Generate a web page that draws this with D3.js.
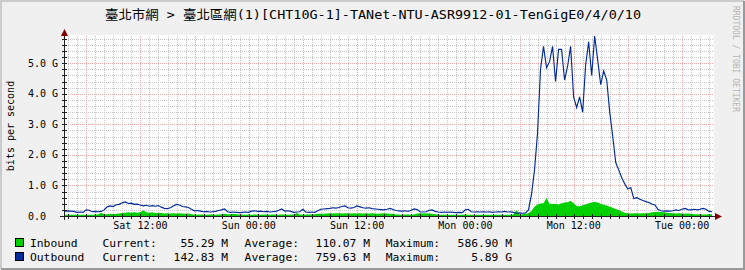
<!DOCTYPE html>
<html>
<head>
<meta charset="utf-8">
<script src="https://cdn.jsdelivr.net/npm/d3@7"></script>
<style>
  html, body { margin: 0; padding: 0; background: #f0f0f0; }
  svg { display: block; }
  text { font-family: "DejaVu Sans Mono", "Noto Sans CJK TC", monospace; fill: #000; }
</style>
</head>
<body>
<svg id="chart" width="745" height="270"></svg>
<script>
const title = "臺北市網 > 臺北區網(1)[CHT10G-1]-TANet-NTU-ASR9912-01-TenGigE0/4/0/10";
const yLabel = "bits per second";
const watermark = "RRDTOOL / TOBI OETIKER";

// y ticks in Gbit/s
const yTicks = [0, 1, 2, 3, 4, 5];
const yTickLabels = ["0.0", "1.0 G", "2.0 G", "3.0 G", "4.0 G", "5.0 G"];
const xTickLabels = ["Sat 12:00", "Sun 00:00", "Sun 12:00", "Mon 00:00", "Mon 12:00", "Tue 00:00"];

// one sample every 20 minutes, Gbit/s
const outbound = [
  0.16,0.17,0.16,0.15,0.12,0.13,0.12,0.20,0.19,0.14,
  0.15,0.14,0.15,0.20,0.30,0.33,0.31,0.37,0.38,0.43,
  0.46,0.41,0.42,0.38,0.39,0.36,0.33,0.35,0.32,0.34,
  0.32,0.34,0.29,0.25,0.24,0.27,0.33,0.38,0.36,0.31,
  0.30,0.28,0.22,0.17,0.18,0.16,0.14,0.15,0.13,0.14,
  0.15,0.18,0.20,0.23,0.14,0.12,0.13,0.12,0.11,0.12,
  0.13,0.12,0.16,0.17,0.15,0.16,0.14,0.15,0.13,0.14,
  0.15,0.19,0.23,0.16,0.17,0.15,0.12,0.13,0.14,0.22,
  0.13,0.12,0.13,0.12,0.17,0.22,0.23,0.24,0.25,0.27,
  0.26,0.28,0.31,0.33,0.27,0.26,0.28,0.33,0.30,0.27,
  0.26,0.27,0.24,0.23,0.22,0.21,0.20,0.22,0.25,0.21,
  0.18,0.17,0.16,0.17,0.15,0.19,0.23,0.21,0.14,0.13,
  0.14,0.19,0.20,0.15,0.13,0.12,0.13,0.12,0.13,0.12,
  0.11,0.12,0.11,0.20,0.22,0.14,0.13,0.14,0.13,0.14,
  0.13,0.14,0.12,0.13,0.14,0.13,0.15,0.13,0.14,0.12,
  0.09,0.10,0.09,0.10,0.20,0.70,1.50,2.70,4.80,5.55,
  4.85,5.05,5.55,4.40,5.45,5.45,4.45,4.90,5.55,3.90,
  3.55,3.90,3.40,4.95,5.70,4.60,5.89,5.10,4.30,4.75,
  4.45,3.40,2.60,1.75,1.50,1.25,1.05,0.88,0.93,0.57,
  0.60,0.55,0.51,0.47,0.44,0.39,0.36,0.22,0.17,0.16,
  0.17,0.16,0.17,0.20,0.18,0.22,0.25,0.21,0.20,0.22,
  0.20,0.22,0.25,0.22,0.15,0.14
];
const inbound = [
  0.04,0.045,0.04,0.045,0.04,0.04,0.045,0.04,0.045,0.04,
  0.05,0.05,0.11,0.06,0.06,0.07,0.06,0.07,0.08,0.10,
  0.11,0.12,0.11,0.12,0.11,0.12,0.19,0.12,0.11,0.12,
  0.10,0.11,0.10,0.08,0.09,0.08,0.09,0.08,0.09,0.08,
  0.07,0.08,0.06,0.05,0.045,0.05,0.05,0.045,0.05,0.05,
  0.045,0.05,0.06,0.07,0.06,0.06,0.07,0.06,0.05,0.05,
  0.045,0.05,0.045,0.05,0.05,0.045,0.05,0.05,0.045,0.05,
  0.05,0.045,0.05,0.05,0.045,0.05,0.05,0.10,0.05,0.045,
  0.05,0.05,0.06,0.06,0.07,0.07,0.07,0.08,0.09,0.08,
  0.09,0.09,0.08,0.09,0.09,0.08,0.09,0.08,0.09,0.08,
  0.09,0.08,0.09,0.08,0.07,0.08,0.09,0.08,0.07,0.07,
  0.05,0.05,0.045,0.05,0.05,0.045,0.05,0.08,0.09,0.08,
  0.09,0.08,0.07,0.06,0.05,0.04,0.045,0.04,0.04,0.045,
  0.04,0.04,0.045,0.05,0.04,0.04,0.045,0.04,0.04,0.045,
  0.04,0.04,0.045,0.04,0.04,0.045,0.04,0.04,0.045,0.05,
  0.20,0.05,0.06,0.07,0.09,0.16,0.30,0.38,0.41,0.42,
  0.587,0.40,0.39,0.40,0.38,0.42,0.44,0.45,0.50,0.42,
  0.33,0.32,0.35,0.38,0.42,0.44,0.47,0.44,0.40,0.37,
  0.34,0.30,0.27,0.23,0.20,0.15,0.11,0.09,0.08,0.09,
  0.09,0.08,0.09,0.09,0.10,0.12,0.13,0.14,0.13,0.12,
  0.11,0.10,0.09,0.08,0.09,0.08,0.07,0.08,0.07,0.06,
  0.06,0.06,0.05,0.05,0.06,0.055
];

const legendNames = ["Inbound", "Outbound"];
const legendColors = ["#00CF00", "#002A97"];
const legendCurrent = ["55.29 M", "142.83 M"];
const legendAverage = ["110.07 M", "759.63 M"];
const legendMaximum = ["586.90 M", "5.89 G"];

const start = new Date(2021, 0, 2, 3, 32);
const end = new Date(2021, 0, 5, 3, 32);
const firstSample = new Date(2021, 0, 2, 3, 39);
const stepMs = 20 * 60 * 1000;
const sampleTime = (i) => new Date(firstSample.getTime() + i * stepMs);

const svg = d3.select("#chart");

const x = d3.scaleTime().domain([start, end]).range([64, 714]);
const y = d3.scaleLinear().domain([0, 5.89]).range([216, 36]);
const px = (v) => Math.round(v) + 0.5;

// background + 3d border
svg.append("rect").attr("width", 745).attr("height", 270).attr("fill", "#f0f0f0");
svg.append("path").attr("d", "M1,269V1H744").attr("fill", "none").attr("stroke", "#cbcbcb").attr("stroke-width", 2);
svg.append("path").attr("d", "M1,269H744V1").attr("fill", "none").attr("stroke", "#999999").attr("stroke-width", 2);

// canvas
svg.append("rect")
    .attr("x", 64).attr("y", 35)
    .attr("width", 650).attr("height", 181)
    .attr("fill", "#ffffff");

// grid
const grid = svg.append("g");
const minorY = d3.range(1, 30).map((k) => k * 0.2).filter((v) => Math.abs(v - Math.round(v)) > 1e-6);
const minorX = d3.timeHour.range(start, end);
const majorX = d3.timeHour.every(6).range(start, end);

grid.selectAll(".minor-y").data(minorY).join("line")
    .attr("x1", 64).attr("x2", 714)
    .attr("y1", (d) => px(y(d))).attr("y2", (d) => px(y(d)))
    .attr("stroke", "#c8c8c8").attr("stroke-dasharray", "1,1");
grid.selectAll(".minor-x").data(minorX).join("line")
    .attr("x1", (d) => px(x(d))).attr("x2", (d) => px(x(d)))
    .attr("y1", 36).attr("y2", 216)
    .attr("stroke", "#c8c8c8").attr("stroke-dasharray", "1,1");
grid.selectAll(".major-y").data(yTicks.slice(1)).join("line")
    .attr("x1", 64).attr("x2", 714)
    .attr("y1", (d) => px(y(d))).attr("y2", (d) => px(y(d)))
    .attr("stroke", "#f0a8a8").attr("stroke-dasharray", "1,1");
grid.selectAll(".major-x").data(majorX).join("line")
    .attr("x1", (d) => px(x(d))).attr("x2", (d) => px(x(d)))
    .attr("y1", 36).attr("y2", 216)
    .attr("stroke", "#f0a8a8").attr("stroke-dasharray", "1,1");

// data
const area = d3.area()
    .x((d, i) => x(sampleTime(i)))
    .y0(y(0))
    .y1((d) => y(d));
svg.append("path").datum(inbound)
    .attr("d", area)
    .attr("fill", legendColors[0]);

const line = d3.line()
    .x((d, i) => x(sampleTime(i)))
    .y((d) => y(d));
svg.append("path").datum(outbound)
    .attr("d", line)
    .attr("fill", "none")
    .attr("stroke", legendColors[1])
    .attr("stroke-width", 1.15);

// axes
const axisColor = "#212121";
svg.append("line").attr("x1", 60).attr("x2", 716).attr("y1", 216.5).attr("y2", 216.5).attr("stroke", axisColor);
svg.append("line").attr("x1", 64.5).attr("x2", 64.5).attr("y1", 220).attr("y2", 32).attr("stroke", axisColor);

svg.append("g").selectAll("line").data(minorY.concat(yTicks.slice(1))).join("line")
    .attr("x1", 62).attr("x2", 67)
    .attr("y1", (d) => px(y(d))).attr("y2", (d) => px(y(d)))
    .attr("stroke", axisColor);
svg.append("g").selectAll("line").data(minorX).join("line")
    .attr("x1", (d) => px(x(d))).attr("x2", (d) => px(x(d)))
    .attr("y1", 214).attr("y2", 219)
    .attr("stroke", axisColor);

// arrows
svg.append("path").attr("d", "M61,36L64.5,29L68,36Z").attr("fill", "#800000");
svg.append("path").attr("d", "M715,213L722,216.5L715,220Z").attr("fill", "#800000");

// y labels
svg.append("g").selectAll("text").data(yTicks).join("text")
    .attr("x", 28)
    .attr("y", (d) => y(d) + 3.5)
    .style("font-size", "10px")
    .text((d, i) => yTickLabels[i]);

// x labels
const labelTimes = d3.timeHour.every(12).range(start, end);
svg.append("g").selectAll("text").data(labelTimes).join("text")
    .attr("x", (d) => x(d))
    .attr("y", 229)
    .attr("text-anchor", "middle")
    .style("font-size", "10px")
    .text((d, i) => xTickLabels[i]);

// vertical label
svg.append("text")
    .attr("transform", "translate(14,126) rotate(-90)")
    .attr("text-anchor", "middle")
    .style("font-size", "10px")
    .text(yLabel);

// watermark
svg.append("text")
    .attr("transform", "translate(733,6) rotate(90)")
    .style("font-size", "8px")
    .style("fill", "#b4b4b4")
    .text(watermark);

// title
svg.append("text")
    .attr("x", 105).attr("y", 19)
    .attr("textLength", 536)
    .attr("lengthAdjust", "spacingAndGlyphs")
    .style("font-size", "13px")
    .text(title);

// legend
const legend = svg.append("g").selectAll("g").data(legendNames).join("g")
    .attr("transform", (d, i) => `translate(0,${247 + i * 14})`);
legend.append("rect")
    .attr("x", 15.5).attr("y", -8.5)
    .attr("width", 8).attr("height", 8)
    .attr("fill", (d, i) => legendColors[i])
    .attr("stroke", "#000");
const legendFont = "11.3px";
legend.append("text").attr("x", 30).style("font-size", legendFont).text((d) => d);
legend.append("text").attr("x", 102.5).style("font-size", legendFont).text("Current:");
legend.append("text").attr("x", 228).attr("text-anchor", "end").style("font-size", legendFont).text((d, i) => legendCurrent[i]);
legend.append("text").attr("x", 244.6).style("font-size", legendFont).text("Average:");
legend.append("text").attr("x", 370).attr("text-anchor", "end").style("font-size", legendFont).text((d, i) => legendAverage[i]);
legend.append("text").attr("x", 385.7).style("font-size", legendFont).text("Maximum:");
legend.append("text").attr("x", 512).attr("text-anchor", "end").style("font-size", legendFont).text((d, i) => legendMaximum[i]);
</script>
</body>
</html>
